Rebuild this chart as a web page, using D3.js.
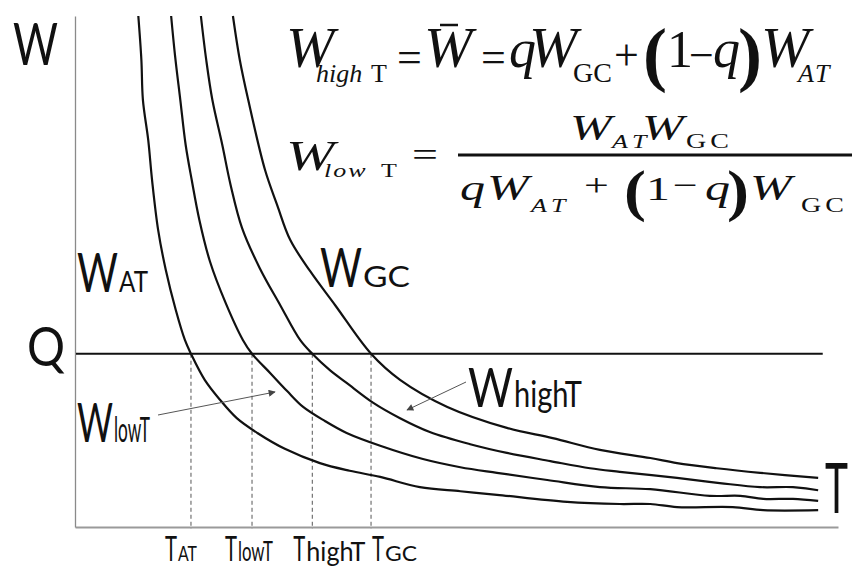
<!DOCTYPE html>
<html>
<head>
<meta charset="utf-8">
<script src="https://cdn.jsdelivr.net/npm/d3@7/dist/d3.min.js"></script>
<style>
  html, body { margin: 0; padding: 0; background: #fff; }
  svg { display: block; }
  .lab { font-family: Lato, "Open Sans", "DejaVu Sans", sans-serif; font-weight: 400; fill: #111; }
  .math { font-family: "Liberation Serif", "Times New Roman", serif; fill: #111; }
</style>
</head>
<body>
<svg id="chart" width="854" height="566"></svg>
<script>
// Fitness curves W(T): temperature T on the horizontal axis, fitness W on the vertical axis (arbitrary units 0-100)
const tAT    = [8.3, 8.7, 8.9, 9.6, 10.1, 10.9, 11.9, 13.2, 14.4, 15.2, 17.0, 19.0, 21.2, 23.9, 27.5, 32.1, 36.0, 40.0, 45.2, 50.5, 55.3, 64.5, 71.4, 75.4, 78.9, 86.2, 90.2, 97.4];
const wAT    = [100, 91.4, 83.6, 75.7, 67.9, 58.1, 50.3, 42.5, 36.6, 33.9, 28.8, 24.9, 21.3, 18.4, 15.3, 12.5, 11.0, 9.8, 7.8, 7.0, 6.3, 4.9, 4.5, 4.5, 3.9, 3.9, 3.3, 3.3];

const tLowT  = [12.6, 13.1, 13.8, 14.5, 15.3, 16.3, 17.7, 19.7, 22.0, 23.2, 25.6, 27.8, 29.9, 32.8, 35.6, 40.0, 45.6, 50.5, 55.3, 61.9, 68.8, 75.4, 83.2, 87.2, 90.2, 94.1, 97.4];
const wLowT  = [100, 92.4, 83.6, 74.8, 67.9, 60.1, 51.9, 44.0, 36.6, 33.9, 30.1, 26.6, 23.5, 20.7, 18.4, 15.9, 13.3, 11.7, 10.6, 9.2, 7.8, 7.4, 6.1, 6.1, 5.5, 5.5, 5.1];

const tHighT = [16.5, 17.2, 18.0, 19.3, 20.4, 21.9, 24.2, 26.9, 29.5, 31.1, 33.4, 35.6, 39.1, 42.6, 46.5, 51.8, 56.6, 62.3, 67.5, 71.4, 78.9, 84.5, 89.8, 94.1, 97.4];
const wHighT = [100, 91.4, 83.6, 74.8, 66.9, 58.5, 50.7, 43.4, 36.6, 33.9, 30.7, 28.2, 24.3, 21.3, 18.6, 16.2, 14.5, 12.9, 11.5, 10.8, 9.6, 8.6, 7.8, 7.8, 7.2];

const tGC    = [20.7, 21.6, 22.7, 24.9, 26.5, 28.2, 30.8, 34.1, 38.8, 42.6, 48.8, 56.6, 62.6, 68.8, 75.4, 78.9, 84.1, 89.8, 97.4];
const wGC    = [100, 91.4, 83.6, 69.9, 63.0, 56.2, 50.1, 43.4, 33.9, 28.8, 23.5, 19.4, 17.4, 15.1, 13.5, 12.5, 11.5, 10.6, 9.6];

// Threshold level Q and the temperatures where each curve crosses it
const qLevel   = 33.9;
const qEndT    = 98.0;
const crossT   = [15.2, 23.2, 31.1, 38.8];
const crossSub = ["AT", "lowT", "highT", "GC"];

const svg = d3.select("#chart");
const x = d3.scaleLinear().domain([0, 100]).range([75, 838]);
const y = d3.scaleLinear().domain([0, 100]).range([527, 16]);

// Axes: bare domain lines, no ticks
svg.append("g").attr("transform", `translate(0,${y(0)})`)
  .call(d3.axisBottom(x).tickValues([]).tickSizeOuter(0))
  .select(".domain").attr("stroke", "#9a9a9a").attr("stroke-width", 2);
svg.append("g").attr("transform", `translate(${x(0)},0)`)
  .call(d3.axisLeft(y).tickValues([]).tickSizeOuter(0))
  .select(".domain").attr("stroke", "#8a8a8a").attr("stroke-width", 1.3);

// Dashed drop lines from the Q level to the T axis
svg.append("g").selectAll("line").data(crossT).join("line")
  .attr("x1", d => x(d)).attr("x2", d => x(d))
  .attr("y1", y(qLevel)).attr("y2", y(0) + 2)
  .attr("stroke", "#555").attr("stroke-width", 1).attr("stroke-dasharray", "4,3");

// Q level line
svg.append("line")
  .attr("x1", x(0) + 1).attr("x2", x(qEndT))
  .attr("y1", y(qLevel)).attr("y2", y(qLevel))
  .attr("stroke", "#111").attr("stroke-width", 2.2);

// The four fitness curves
const line = d3.line().x(d => x(d[0])).y(d => y(d[1])).curve(d3.curveCatmullRom.alpha(0.5));
const curves = [[tAT, wAT], [tLowT, wLowT], [tHighT, wHighT], [tGC, wGC]];
svg.append("g").selectAll("path").data(curves).join("path")
  .attr("d", c => line(d3.zip(c[0], c[1])))
  .attr("fill", "none").attr("stroke", "#111").attr("stroke-width", 2.2);

// A sans-serif run of text stretched horizontally to a given width
function word(str, x0, base, fs, width) {
  const t = svg.append("text").attr("class", "lab").attr("font-size", fs).text(str);
  const len = t.node().getComputedTextLength();
  t.attr("transform", `translate(${x0},${base}) scale(${width / len},1)`);
  return t;
}
// Capital letter followed by a smaller run of text
function label(main, sub, x0, base, fs, wMain, subFs, wSub) {
  word(main, x0, base, fs, wMain);
  if (sub) word(sub, x0 + wMain + 1, base, subFs, wSub);
}
label("W", null, 13, 65, 58, 45);
label("Q", null, 27, 366, 54, 38);
label("W", "AT", 77, 292, 54, 41, 28, 29);
label("W", "GC", 320, 287, 54, 42, 28, 47);
label("W", "lowT", 77, 442, 54, 36, 34, 36);
label("W", "highT", 468, 407, 55, 45, 36, 68);
label("T", null, 825, 513, 70, 23);

// T-axis labels below each crossing
const tickLayout = [
  { dx: -26, wS: 19 },
  { dx: -27, wS: 35 },
  { dx: -19, wS: 59 },
  { dx: 1,   wS: 32 }
];
crossT.forEach((t, i) => {
  const L = tickLayout[i];
  const lowerCase = /[a-z]/.test(crossSub[i]);
  label("T", crossSub[i], x(t) + L.dx, 561, 35, 12, lowerCase ? 27 : 21, L.wS);
});

// Arrows pointing from the W labels to their curves
const defs = svg.append("defs");
defs.append("marker").attr("id", "ah").attr("viewBox", "0 0 10 10")
  .attr("refX", 9).attr("refY", 5).attr("markerWidth", 9).attr("markerHeight", 7)
  .attr("orient", "auto").attr("markerUnits", "userSpaceOnUse")
  .append("path").attr("d", "M0,0 L10,5 L0,10 Z").attr("fill", "#444");
const arrows = [
  [[158, 415], [275, 392]],
  [[466, 382], [407, 410]]
];
svg.append("g").selectAll("line").data(arrows).join("line")
  .attr("x1", d => d[0][0]).attr("y1", d => d[0][1])
  .attr("x2", d => d[1][0]).attr("y2", d => d[1][1])
  .attr("stroke", "#555").attr("stroke-width", 1).attr("marker-end", "url(#ah)");

// Formulas
function piece(g, str, px, base, fs, opts = {}) {
  const t = g.append("text").attr("class", "math")
    .attr("transform", `translate(${px},${base}) scale(${opts.sx ?? 1},${opts.sy ?? 1})`)
    .attr("font-size", fs)
    .attr("font-style", opts.it ? "italic" : "normal")
    .attr("font-weight", opts.bold ? "bold" : "normal")
    .text(str);
  if (opts.ls) t.attr("letter-spacing", opts.ls);
  return t;
}
const f1 = svg.append("g");
piece(f1, "W", 286, 67, 58, { it: true });
piece(f1, "high", 316, 82, 26, { it: true });
piece(f1, "T", 371, 82, 26);
piece(f1, "=", 397, 72, 44);
piece(f1, "W", 424, 67, 58, { it: true });
f1.append("line").attr("x1", 440).attr("x2", 458).attr("y1", 25).attr("y2", 25).attr("stroke", "#111").attr("stroke-width", 2.5);
piece(f1, "=", 481, 72, 44);
piece(f1, "q", 509, 67, 54, { it: true });
piece(f1, "W", 529, 67, 58, { it: true });
piece(f1, "GC", 573, 82, 28);
piece(f1, "+", 614, 70, 44);
piece(f1, "(", 643, 78, 72, { bold: true });
piece(f1, "1", 667, 67, 52);
piece(f1, "\u2212", 689, 70, 44);
piece(f1, "q", 713, 67, 54, { it: true });
piece(f1, ")", 738, 78, 72, { bold: true });
piece(f1, "W", 761, 67, 58, { it: true });
piece(f1, "AT", 798, 82, 26, { it: true, ls: 2 });

const f2 = svg.append("g");
const sy = 0.72;
piece(f2, "W", 286, 170, 58, { it: true, sy });
piece(f2, "low", 324, 177, 26, { it: true, sy, ls: 2 });
piece(f2, "T", 381, 177, 26, { sy });
piece(f2, "=", 412, 166, 46, { sy });
f2.append("line").attr("x1", 458).attr("x2", 852).attr("y1", 155).attr("y2", 155).attr("stroke", "#111").attr("stroke-width", 3);
piece(f2, "W", 570, 140, 50, { it: true, sy });
piece(f2, "AT", 612, 148, 26, { it: true, sy, ls: 5 });
piece(f2, "W", 642, 140, 50, { it: true, sy });
piece(f2, "GC", 686, 148, 28, { sy, ls: 4 });
piece(f2, "q", 460, 200, 50, { it: true, sy });
piece(f2, "W", 487, 200, 50, { it: true, sy });
piece(f2, "AT", 531, 212, 26, { it: true, sy, ls: 5 });
piece(f2, "+", 584, 196, 44, { sy });
piece(f2, "(", 624, 210, 66, { bold: true, sy: 0.85 });
piece(f2, "1", 646, 200, 48, { sy });
piece(f2, "\u2212", 673, 196, 44, { sy });
piece(f2, "q", 705, 200, 50, { it: true, sy });
piece(f2, ")", 727, 210, 66, { bold: true, sy: 0.85 });
piece(f2, "W", 750, 200, 50, { it: true, sy });
piece(f2, "GC", 801, 212, 28, { sy, ls: 4 });
</script>
</body>
</html>
